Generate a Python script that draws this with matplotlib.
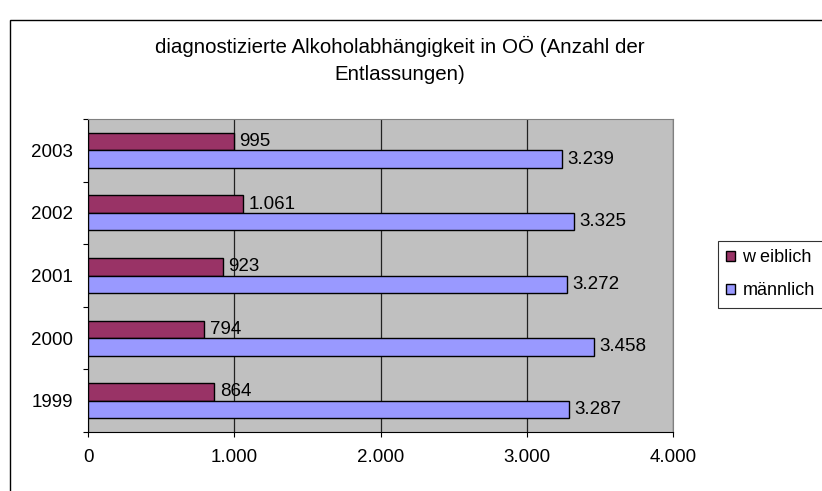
import numpy as np
import matplotlib
matplotlib.use("Agg")
import matplotlib.pyplot as plt
from matplotlib.patches import Rectangle
from matplotlib.ticker import FuncFormatter, FixedLocator

years = ["1999", "2000", "2001", "2002", "2003"]
weiblich = [864, 794, 923, 1061, 995]
maennlich = [3287, 3458, 3272, 3325, 3239]
series_names = ["w eiblich", "männlich"]
title = "diagnostizierte Alkoholabhängigkeit in OÖ (Anzahl der\nEntlassungen)"

plt.rcParams["font.family"] = ["Liberation Sans", "DejaVu Sans"]


def de_fmt(v):
    return f"{int(round(v)):,}".replace(",", ".")


fig = plt.figure(figsize=(8.22, 4.91), dpi=100)
W, H = 822, 491

# outer chart frame (runs off the right and bottom edge)
fig.patches.append(Rectangle((10 / W, -20 / H), 830 / W, 491 / H, transform=fig.transFigure,
                             fill=False, edgecolor="black", linewidth=1.0))

ax = fig.add_axes([88 / W, 1 - 432 / H, 585 / W, 313 / H])
ax.set_facecolor("#C0C0C0")

y = np.arange(len(years))
h = 0.28
bars_w = ax.barh(y + h / 2, weiblich, height=h, color="#993366", edgecolor="black",
                 linewidth=1.0, label=series_names[0], zorder=3)
bars_m = ax.barh(y - h / 2, maennlich, height=h, color="#9999FF", edgecolor="black",
                 linewidth=1.0, label=series_names[1], zorder=3)

for bars, vals in [(bars_w, weiblich), (bars_m, maennlich)]:
    for b, v in zip(bars, vals):
        ax.annotate(de_fmt(v), (v, b.get_y() + b.get_height() / 2),
                    xytext=(4, 0), textcoords="offset points",
                    va="center", ha="left", fontsize=13.5, zorder=4)

ax.set_xlim(0, 4000)
ax.set_ylim(-0.5, len(years) - 0.5)
ax.set_xticks([0, 1000, 2000, 3000, 4000])
ax.xaxis.set_major_formatter(FuncFormatter(lambda v, p: de_fmt(v)))
ax.grid(axis="x", color="#222222", linewidth=0.9, zorder=1)

ax.set_yticks(y)
ax.set_yticklabels(years)
ax.yaxis.set_minor_locator(FixedLocator(np.arange(-0.5, len(years), 1.0)))
ax.tick_params(axis="y", which="major", length=0, pad=11, labelsize=13.5)
ax.tick_params(axis="y", which="minor", length=3.6, width=0.8, direction="out")
ax.tick_params(axis="x", length=3.6, width=0.8, direction="out", pad=9, labelsize=13.5)

for s in ["top", "right"]:
    ax.spines[s].set_color("#808080")
ax.spines["left"].set_color("black")
ax.spines["bottom"].set_color("black")

fig.text(400 / W, 1 - 60 / H, title, ha="center", va="center", fontsize=14.8,
         linespacing=1.5)

handles = [bars_w, bars_m]
leg = fig.legend(handles, series_names, loc="upper left",
                 bbox_to_anchor=(718 / W, 1 - 241 / H), fontsize=13,
                 frameon=True, fancybox=False, edgecolor="black", handlelength=0.5,
                 handleheight=0.5, handletextpad=0.4, labelspacing=0.9,
                 borderpad=0.45, borderaxespad=0)
leg.get_frame().set_linewidth(0.8)

fig.savefig("out.png", dpi=100)
